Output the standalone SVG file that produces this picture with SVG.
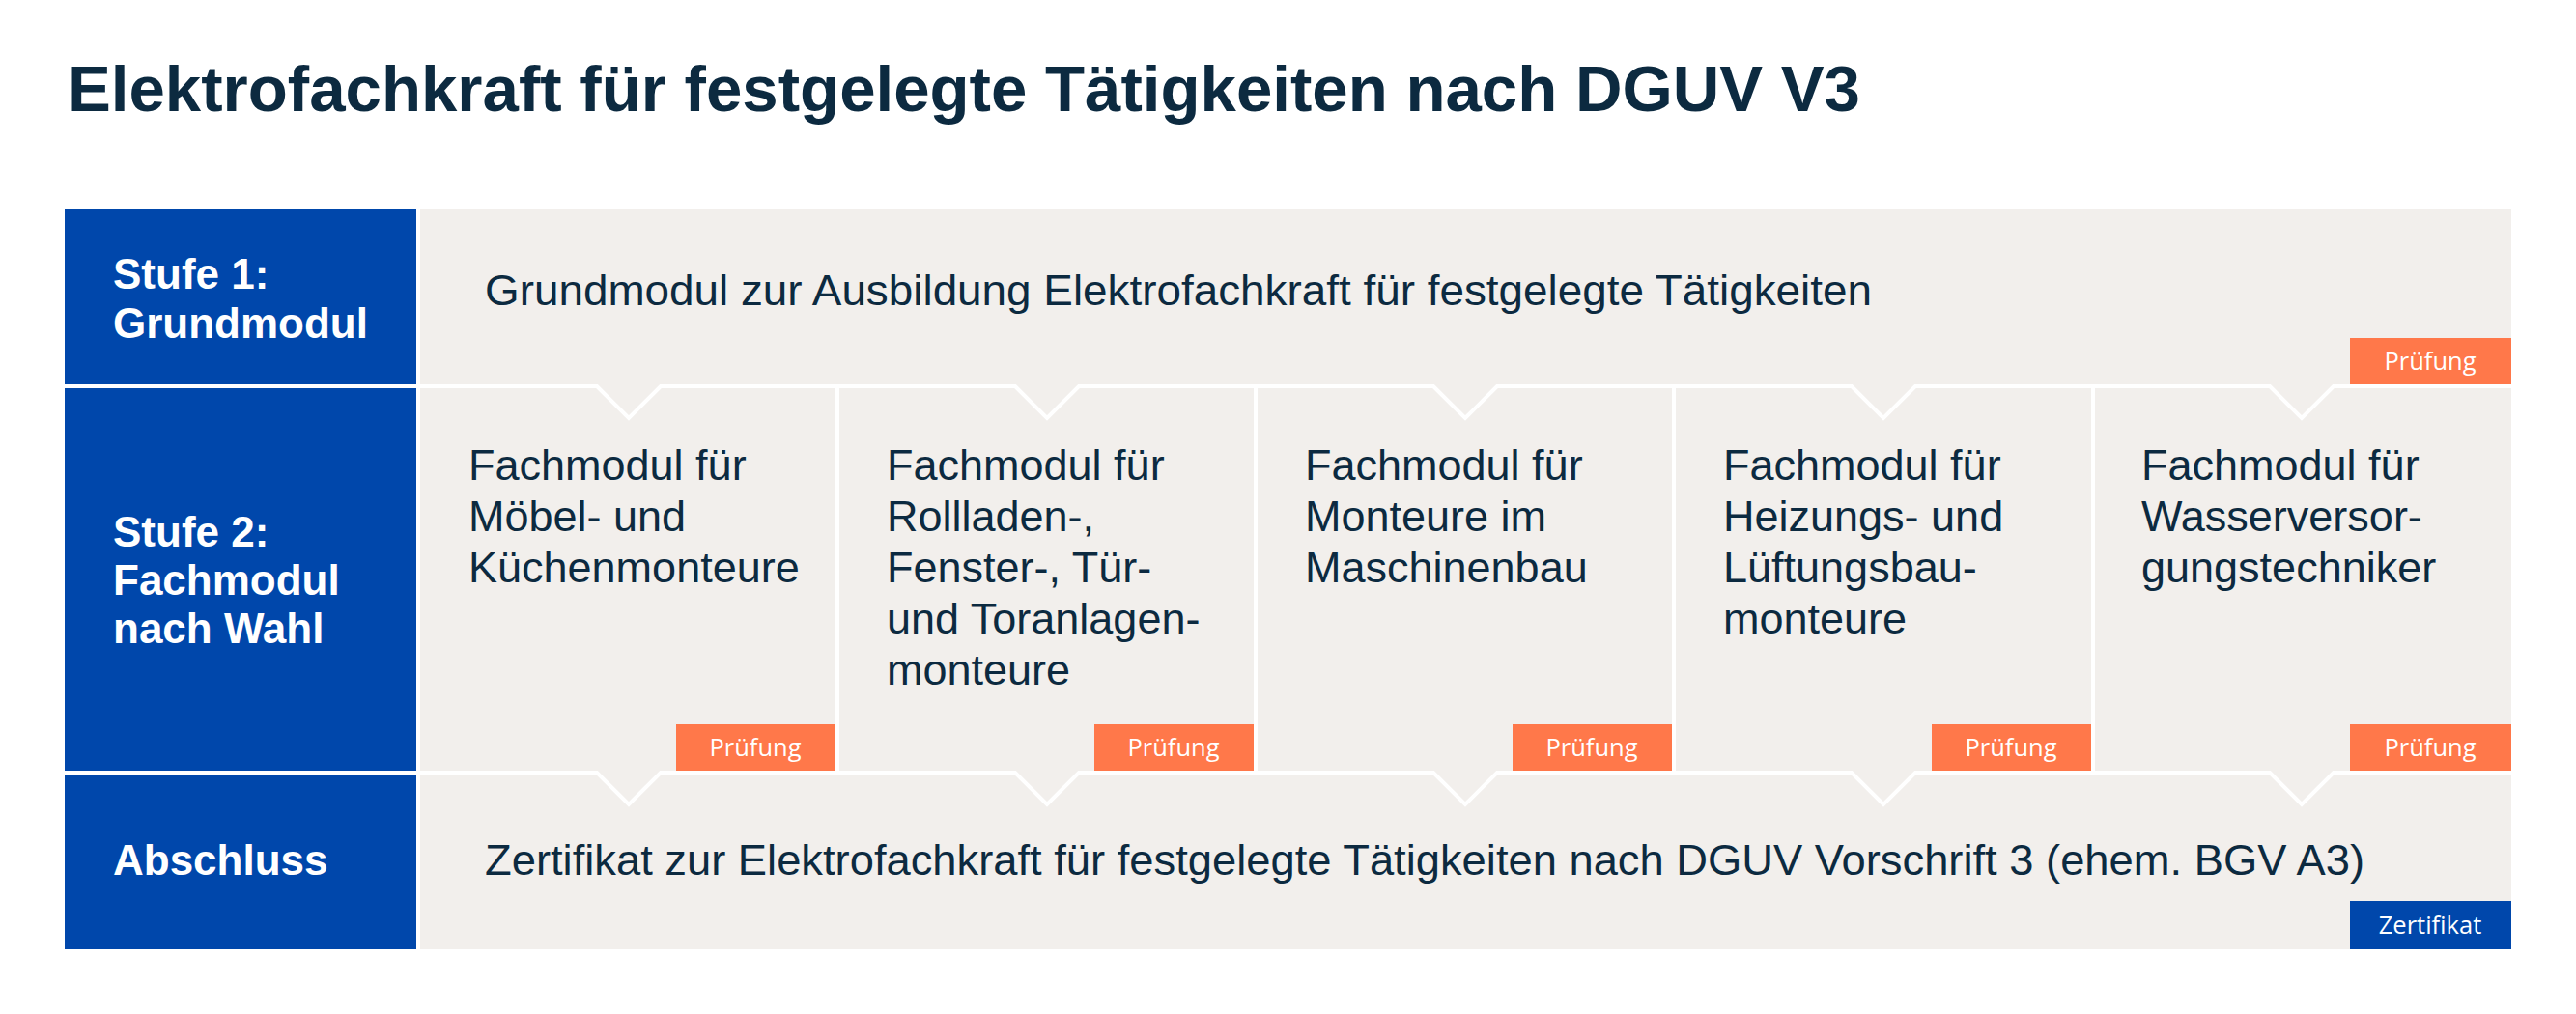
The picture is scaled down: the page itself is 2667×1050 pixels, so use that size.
<svg xmlns="http://www.w3.org/2000/svg" width="2667" height="1050" viewBox="0 0 2667 1050">
<style>
.bg{fill:#ffffff}
.lab{fill:#0047AB}
.cell{fill:#F2EFEC}
.sep{fill:none;stroke:#ffffff;stroke-width:4;stroke-linejoin:miter}
.title{font-family:"Liberation Sans",Arial,sans-serif;font-weight:700;font-size:66px;fill:#0C2A40}
.lt{font-family:"Liberation Sans",Arial,sans-serif;font-weight:700;font-size:44px;fill:#ffffff}
.bt{font-family:"Liberation Sans",Arial,sans-serif;font-size:45px;fill:#0C2A40}
.pr{fill:#FF784A}
.ze{fill:#0047AB}
.badge{font-family:"Open Sans","Noto Sans",sans-serif;font-weight:500;font-size:25.5px;fill:#ffffff;text-anchor:middle}
</style>
<rect class="bg" x="0" y="0" width="2667" height="1050"/>
<g id="title"><text class="title" x="70" y="115" textLength="1856" lengthAdjust="spacingAndGlyphs">Elektrofachkraft für festgelegte Tätigkeiten nach DGUV V3</text></g>

<g id="background-cells">
<rect class="cell" x="435" y="216" width="2165" height="767"/>
</g>

<g id="label-stufe1">
<rect class="lab" x="67" y="216" width="364" height="182"/>
<text class="lt" x="117" y="299">Stufe 1:</text>
<text class="lt" x="117" y="350">Grundmodul</text>
</g>
<g id="label-stufe2">
<rect class="lab" x="67" y="402" width="364" height="396"/>
<text class="lt" x="117" y="566">Stufe 2:</text>
<text class="lt" x="117" y="616">Fachmodul</text>
<text class="lt" x="117" y="666">nach Wahl</text>
</g>
<g id="label-abschluss">
<rect class="lab" x="67" y="802" width="364" height="181"/>
<text class="lt" x="117" y="906">Abschluss</text>
</g>

<g id="connectors">
<path class="sep" d="M435,400 H618 L651,433 L684,400 H1051 L1084,433 L1117,400 H1484 L1517,433 L1550,400 H1917 L1950,433 L1983,400 H2350 L2383,433 L2416,400 H2600"/>
<path class="sep" d="M435,800 H618 L651,833 L684,800 H1051 L1084,833 L1117,800 H1484 L1517,833 L1550,800 H1917 L1950,833 L1983,800 H2350 L2383,833 L2416,800 H2600"/>
<path class="sep" d="M867,400 V800 M1300,400 V800 M1733,400 V800 M2167,400 V800"/>
</g>

<g id="grundmodul">
<text class="bt" x="502" y="316" textLength="1436" lengthAdjust="spacingAndGlyphs">Grundmodul zur Ausbildung Elektrofachkraft für festgelegte Tätigkeiten</text>
<rect class="pr" x="2433" y="350" width="167" height="48"/>
<text class="badge" x="2516" y="383">Prüfung</text>
</g>

<g id="fachmodul-1">
<text class="bt" x="485" y="497">Fachmodul für</text>
<text class="bt" x="485" y="550">Möbel- und</text>
<text class="bt" x="485" y="603">Küchenmonteure</text>
<rect class="pr" x="700" y="750" width="165" height="48"/>
<text class="badge" x="782" y="783">Prüfung</text>
</g>
<g id="fachmodul-2">
<text class="bt" x="918" y="497">Fachmodul für</text>
<text class="bt" x="918" y="550">Rollladen-,</text>
<text class="bt" x="918" y="603">Fenster-, Tür-</text>
<text class="bt" x="918" y="656">und Toranlagen-</text>
<text class="bt" x="918" y="709">monteure</text>
<rect class="pr" x="1133" y="750" width="165" height="48"/>
<text class="badge" x="1215" y="783">Prüfung</text>
</g>
<g id="fachmodul-3">
<text class="bt" x="1351" y="497">Fachmodul für</text>
<text class="bt" x="1351" y="550">Monteure im</text>
<text class="bt" x="1351" y="603">Maschinenbau</text>
<rect class="pr" x="1566" y="750" width="165" height="48"/>
<text class="badge" x="1648" y="783">Prüfung</text>
</g>
<g id="fachmodul-4">
<text class="bt" x="1784" y="497">Fachmodul für</text>
<text class="bt" x="1784" y="550">Heizungs- und</text>
<text class="bt" x="1784" y="603">Lüftungsbau-</text>
<text class="bt" x="1784" y="656">monteure</text>
<rect class="pr" x="2000" y="750" width="165" height="48"/>
<text class="badge" x="2082" y="783">Prüfung</text>
</g>
<g id="fachmodul-5">
<text class="bt" x="2217" y="497">Fachmodul für</text>
<text class="bt" x="2217" y="550">Wasserversor-</text>
<text class="bt" x="2217" y="603">gungstechniker</text>
<rect class="pr" x="2433" y="750" width="167" height="48"/>
<text class="badge" x="2516" y="783">Prüfung</text>
</g>

<g id="abschluss">
<text class="bt" x="502" y="906" textLength="1946" lengthAdjust="spacingAndGlyphs">Zertifikat zur Elektrofachkraft für festgelegte Tätigkeiten nach DGUV Vorschrift 3 (ehem. BGV A3)</text>
<rect class="ze" x="2433" y="933" width="167" height="50"/>
<text class="badge" x="2516" y="967">Zertifikat</text>
</g>
</svg>
